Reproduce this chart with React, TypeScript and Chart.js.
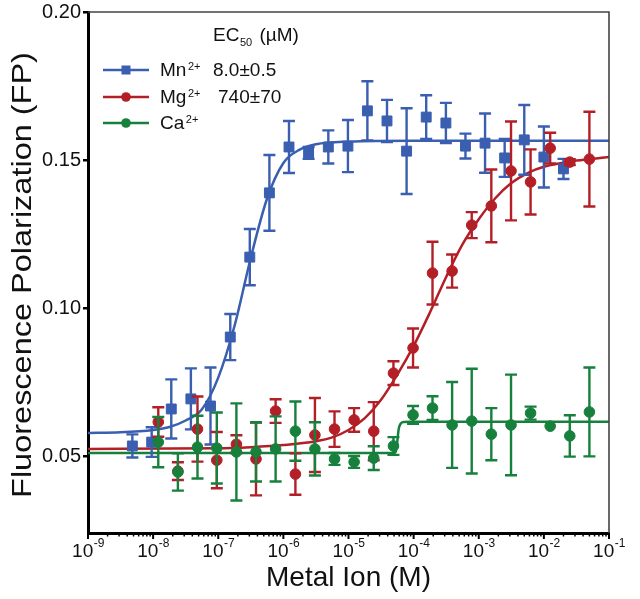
import React, { useEffect, useRef } from 'react';
import { Chart, registerables } from 'chart.js';

Chart.register(...registerables);

const FONT = '"Liberation Sans", Arial, Helvetica, sans-serif';
const BLUE = '#3a5eb0';
const RED = '#b31f26';
const GREEN = '#16803c';

// Mn2+ measurements (M, FP, ±error)
const mnConc = [4.8e-9, 9.5e-9, 1.9e-8, 3.8e-8, 7.6e-8, 1.53e-7, 3.05e-7, 6.1e-7, 1.22e-6, 2.44e-6, 4.9e-6, 9.8e-6, 1.95e-5, 3.9e-5, 7.8e-5, 1.56e-4, 3.13e-4, 6.25e-4, 1.25e-3, 2.5e-3, 5.0e-3, 1.0e-2, 2.0e-2];
const mnFP = [0.0534, 0.0547, 0.0659, 0.0693, 0.0669, 0.0902, 0.1172, 0.1389, 0.1544, 0.1524, 0.1544, 0.1547, 0.1666, 0.1632, 0.1530, 0.1645, 0.1625, 0.1547, 0.1557, 0.1507, 0.1568, 0.1510, 0.1470];
const mnErr = [0.0039, 0.005, 0.010, 0.0103, 0.013, 0.0078, 0.0095, 0.0128, 0.0088, 0.002, 0.0056, 0.0088, 0.010, 0.0071, 0.0145, 0.0074, 0.0068, 0.0042, 0.010, 0.0064, 0.0118, 0.0103, 0.0034];

// Mg2+ and Ca2+ share concentrations
const mgCaConc = [1.2e-8, 2.4e-8, 4.8e-8, 9.5e-8, 1.9e-7, 3.8e-7, 7.6e-7, 1.53e-6, 3.05e-6, 6.1e-6, 1.22e-5, 2.44e-5, 4.9e-5, 9.8e-5, 1.95e-4, 3.9e-4, 7.8e-4, 1.56e-3, 3.13e-3, 6.25e-3, 1.25e-2, 2.5e-2, 5.0e-2];
const mgFP = [0.0615, 0.0449, 0.0591, 0.0486, 0.0540, 0.0490, 0.0652, 0.0439, 0.0571, 0.0591, 0.0622, 0.0584, 0.0780, 0.0865, 0.1118, 0.1125, 0.1280, 0.1345, 0.1463, 0.1426, 0.1540, 0.1493, 0.1503];
const mgErr = [0.005, 0.003, 0.011, 0.0095, 0.003, 0.0123, 0.004, 0.007, 0.0125, 0.006, 0.004, 0.0098, 0.004, 0.0066, 0.0106, 0.0056, 0.0044, 0.0123, 0.0167, 0.011, 0.0052, 0.001, 0.016];
const caFP = [0.0547, 0.0446, 0.0530, 0.0527, 0.0514, 0.0514, 0.0524, 0.0584, 0.0524, 0.0490, 0.0480, 0.0493, 0.0534, 0.0639, 0.0662, 0.0605, 0.0618, 0.0574, 0.0605, 0.0645, 0.0601, 0.0568, 0.0649];
const caErr = [0.0085, 0.0063, 0.0106, 0.012, 0.0164, 0.010, 0.011, 0.010, 0.009, 0.002, 0.002, 0.004, 0.003, 0.003, 0.004, 0.0145, 0.0177, 0.0088, 0.017, 0.0022, 0, 0.007, 0.015];

// fitted curves
const mnFitConc = [1e-9, 3.16e-9, 1e-8, 1.78e-8, 3.16e-8, 5.62e-8, 1e-7, 1.78e-7, 3.16e-7, 5.62e-7, 1e-6, 1.78e-6, 3.16e-6, 1e-5, 1e-4, 1e-1];
const mnFitFP = [0.0578, 0.0580, 0.0588, 0.0598, 0.0620, 0.0658, 0.0765, 0.0940, 0.1170, 0.1370, 0.1490, 0.1535, 0.1553, 0.1562, 0.1565, 0.1565];
const mgFitConc = [1e-9, 1e-7, 3.16e-7, 1e-6, 3.16e-6, 5.62e-6, 1e-5, 1.78e-5, 3.16e-5, 5.62e-5, 1e-4, 1.78e-4, 3.16e-4, 5.62e-4, 1e-3, 1.78e-3, 3.16e-3, 5.62e-3, 1e-2, 3.16e-2, 1e-1];
const mgFitFP = [0.0524, 0.0526, 0.0530, 0.0537, 0.0550, 0.0563, 0.0588, 0.0628, 0.0690, 0.0775, 0.0872, 0.0985, 0.1105, 0.1215, 0.1300, 0.1370, 0.1422, 0.1456, 0.1477, 0.1498, 0.1510];
const caFitConc = [1e-9, 5.01e-5, 5.37e-5, 5.62e-5, 5.89e-5, 6.31e-5, 7.08e-5, 8.91e-5, 1e-1];
const caFitFP = [0.0510, 0.0510, 0.0518, 0.0550, 0.0590, 0.0609, 0.0615, 0.0616, 0.0616];

const yTicks = [0.05, 0.10, 0.15, 0.20];
const xDecades = [-9, -8, -7, -6, -5, -4, -3, -2, -1];
const legendNames = ['Mn', 'Mg', 'Ca'];
const legendEC50 = ['8.0±0.5', '740±70', ''];
const yTitle = 'Fluorescence Polarization (FP)';
const xTitle = 'Metal Ion (M)';

const xy = (xs: number[], ys: number[]) => xs.map((x, i) => ({ x, y: ys[i] }));

const errorBars = {
  id: 'errorBars',
  beforeDatasetDraw(chart: any, args: any) {
    const ds = chart.data.datasets[args.index];
    if (!ds.errors) return;
    const ctx = chart.ctx;
    const ys = chart.scales.y;
    ctx.save();
    ctx.strokeStyle = ds.borderColor;
    ctx.lineWidth = 2.4;
    args.meta.data.forEach((pt: any, i: number) => {
      const e = ds.errors[i];
      if (!e) return;
      const v = ds.data[i].y;
      const x = pt.x;
      const yt = ys.getPixelForValue(v + e);
      const yb = ys.getPixelForValue(v - e);
      ctx.beginPath();
      ctx.moveTo(x, yt); ctx.lineTo(x, yb);
      ctx.moveTo(x - 6, yt); ctx.lineTo(x + 6, yt);
      ctx.moveTo(x - 6, yb); ctx.lineTo(x + 6, yb);
      ctx.stroke();
    });
    ctx.restore();
  },
};

const decorations = {
  id: 'decorations',
  afterDraw(chart: any) {
    const ctx = chart.ctx;
    const { left, right, top, bottom } = chart.chartArea;
    const xs = chart.scales.x;
    ctx.save();
    // top & right frame
    ctx.strokeStyle = '#444';
    ctx.lineWidth = 1.6;
    ctx.beginPath();
    ctx.moveTo(left, top); ctx.lineTo(right, top); ctx.lineTo(right, bottom);
    ctx.stroke();
    // x ticks (major + minor)
    ctx.strokeStyle = '#000';
    xDecades.forEach((d) => {
      const px = xs.getPixelForValue(Math.pow(10, d));
      ctx.lineWidth = 2;
      ctx.beginPath(); ctx.moveTo(px, bottom); ctx.lineTo(px, bottom + 6); ctx.stroke();
      if (d < -1) {
        for (let m = 2; m <= 9; m++) {
          const mx = xs.getPixelForValue(m * Math.pow(10, d));
          ctx.lineWidth = 1.5;
          ctx.beginPath(); ctx.moveTo(mx, bottom); ctx.lineTo(mx, bottom + 3.5); ctx.stroke();
        }
      }
    });
    // x tick labels 10^n
    ctx.fillStyle = '#111';
    ctx.textBaseline = 'alphabetic';
    ctx.textAlign = 'left';
    xDecades.forEach((d) => {
      const px = xs.getPixelForValue(Math.pow(10, d));
      ctx.font = `19px ${FONT}`;
      const w1 = ctx.measureText('10').width;
      ctx.font = `12px ${FONT}`;
      const sup = String(d);
      const w2 = ctx.measureText(sup).width;
      const x0 = px - (w1 + w2) / 2;
      ctx.font = `19px ${FONT}`;
      ctx.fillText('10', x0, 557);
      ctx.font = `12px ${FONT}`;
      ctx.fillText(sup, x0 + w1 + 0.5, 547);
    });
    // axis titles
    ctx.save();
    ctx.translate(23, 275);
    ctx.rotate(-Math.PI / 2);
    ctx.scale(1.16, 1);
    ctx.font = `28px ${FONT}`;
    ctx.textAlign = 'center';
    ctx.textBaseline = 'middle';
    ctx.fillText(yTitle, 0, 0);
    ctx.restore();
    ctx.font = `28px ${FONT}`;
    ctx.textAlign = 'center';
    ctx.textBaseline = 'middle';
    ctx.fillText(xTitle, (left + right) / 2, 578);
    ctx.textAlign = 'left';
    ctx.textBaseline = 'alphabetic';
    // legend
    ctx.font = `19px ${FONT}`;
    let hx = 213;
    ctx.fillText('EC', hx, 41);
    hx += ctx.measureText('EC').width + 0.5;
    ctx.font = `11px ${FONT}`;
    ctx.fillText('50', hx, 46);
    hx += ctx.measureText('50').width;
    ctx.font = `19px ${FONT}`;
    ctx.fillText(' (µM)', hx + 2, 41);
    const colors = [BLUE, RED, GREEN];
    const rowY = [70, 97, 123];
    const ecX = [213, 218, 0];
    legendNames.forEach((name, i) => {
      const y = rowY[i];
      ctx.strokeStyle = colors[i];
      ctx.lineWidth = 2.5;
      ctx.beginPath(); ctx.moveTo(103, y); ctx.lineTo(149, y); ctx.stroke();
      ctx.fillStyle = colors[i];
      if (i === 0) {
        ctx.fillRect(121.5, y - 4.5, 9, 9);
      } else {
        ctx.beginPath(); ctx.arc(126, y, 4.8, 0, Math.PI * 2); ctx.fill();
      }
      ctx.fillStyle = '#111';
      ctx.font = `19px ${FONT}`;
      ctx.fillText(name, 160, y + 6);
      const w = ctx.measureText(name).width;
      ctx.font = `11px ${FONT}`;
      ctx.fillText('2+', 160 + w + 1.5, y);
      if (legendEC50[i]) {
        ctx.font = `19px ${FONT}`;
        ctx.fillText(legendEC50[i], ecX[i], y + 6);
      }
    });
    ctx.restore();
  },
};

export default function App() {
  const ref = useRef<HTMLCanvasElement>(null);
  useEffect(() => {
    const fit = (data: any, color: string, order: number) => ({
      data, showLine: true, borderColor: color, borderWidth: 2.5, pointRadius: 0,
      pointHoverRadius: 0, cubicInterpolationMode: 'monotone', order,
    });
    const pts = (data: any, errors: number[], color: string, style: string, r: number, order: number) => ({
      data, errors, showLine: false, pointStyle: style, pointRadius: r, pointHoverRadius: r,
      backgroundColor: color, borderColor: color, pointBorderWidth: 1, order,
    });
    const chart = new Chart(ref.current as HTMLCanvasElement, {
      type: 'scatter',
      data: {
        datasets: [
          fit(xy(mnFitConc, mnFitFP), BLUE, 6),
          fit(xy(mgFitConc, mgFitFP), RED, 5),
          fit(xy(caFitConc, caFitFP), GREEN, 4),
          pts(xy(mnConc, mnFP), mnErr, BLUE, 'rect', 7, 3),
          pts(xy(mgCaConc, mgFP), mgErr, RED, 'circle', 5.3, 2),
          pts(xy(mgCaConc, caFP), caErr, GREEN, 'circle', 5.3, 1),
        ] as any,
      },
      options: {
        animation: false,
        responsive: false,
        events: [],
        layout: { padding: { top: 12, right: 31, left: 0, bottom: 0 } },
        plugins: { legend: { display: false }, tooltip: { enabled: false } },
        scales: {
          x: {
            type: 'logarithmic',
            min: 1e-9,
            max: 1e-1,
            afterFit: (s: any) => { s.height = 66; s.paddingLeft = 0; s.paddingRight = 0; },
            ticks: { display: false },
            grid: { display: false },
            border: { display: true, color: '#000', width: 3 },
            title: { display: false },
          },
          y: {
            type: 'linear',
            min: 0.024,
            max: 0.2,
            afterBuildTicks: (s: any) => { s.ticks = yTicks.map((v) => ({ value: v })); },
            afterFit: (s: any) => { s.width = 88; s.paddingTop = 0; s.paddingBottom = 0; },
            ticks: { callback: (v: any) => Number(v).toFixed(2), color: '#111', font: { family: FONT, size: 20 }, padding: 2 },
            grid: { drawOnChartArea: false, drawTicks: true, tickLength: 5, color: '#000', lineWidth: 2.5 },
            border: { display: true, color: '#000', width: 3 },
            title: { display: false },
          },
        },
      } as any,
      plugins: [errorBars, decorations],
    });
    return () => chart.destroy();
  }, []);
  return (
    <div style={{ position: 'fixed', left: 0, top: 0, width: 640, height: 599, background: '#fff' }}>
      <canvas ref={ref} width={640} height={599} />
    </div>
  );
}
